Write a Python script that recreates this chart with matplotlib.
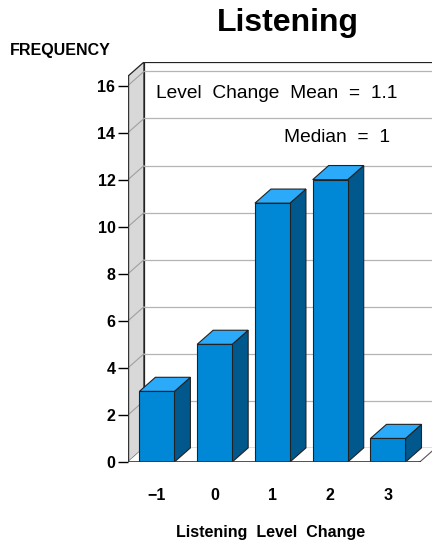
import matplotlib.pyplot as plt
from matplotlib.patches import Polygon

# data
levels = [-1, 0, 1, 2, 3]
tick_labels = ['\u22121', '0', '1', '2', '3']
counts = [3, 5, 11, 12, 1]
yticks = [0, 2, 4, 6, 8, 10, 12, 14, 16]

plt.rcParams['font.family'] = ['Liberation Sans', 'DejaVu Sans']

W, H = 432, 543
fig = plt.figure(figsize=(W / 100, H / 100), dpi=100)

# axes placed in pixels: left 128, right 432, bottom 462, top 62
ax = fig.add_axes([128 / W, (H - 462) / H, (432 - 128) / W, (462 - 62) / H])
x0, x1 = -1.5, 3.5
top = 16.4
dx, dy = 0.277, 0.6
hw = 0.303
ax.set_xlim(x0, 3.762)
ax.set_ylim(0, 17.0)
for s in ax.spines.values():
    s.set_visible(False)

front_c = '#0088d6'
top_c = '#2aaaf8'
side_c = '#00588c'
edge = '#222222'

# left wall
ax.add_patch(Polygon([(x0, 0), (x0 + dx, dy), (x0 + dx, top + dy), (x0, top)],
                     closed=True, facecolor='#d8d8d8', edgecolor=edge, lw=0.9, zorder=1))
# back wall
ax.add_patch(Polygon([(x0 + dx, dy), (5, dy), (5, top + dy), (x0 + dx, top + dy)],
                     closed=True, facecolor='white', edgecolor=edge, lw=0.9, zorder=1))
# gridlines
for t in yticks:
    ax.plot([x0 + dx, 5], [t + dy, t + dy], color='#b4b4b4', lw=0.9, zorder=2)
    ax.plot([x0, x0 + dx], [t, t + dy], color='#a0a0a0', lw=0.8, zorder=2)
# floor
ax.add_patch(Polygon([(x0, 0), (x1 + 0.05, 0), (x1 + 0.05 + dx, dy), (x0 + dx, dy)],
                     closed=True, facecolor='white', edgecolor='none', zorder=2))
ax.plot([x1 + 0.05, x1 + 0.05 + dx], [0, dy], color='#555555', lw=0.8, zorder=2)

# 3d bars
for c, v in zip(levels, counts):
    ax.add_patch(Polygon([(c + hw, 0), (c + hw + dx, dy), (c + hw + dx, v + dy), (c + hw, v)],
                         closed=True, facecolor=side_c, edgecolor=edge, lw=0.8, zorder=3))
    ax.add_patch(Polygon([(c - hw, v), (c + hw, v), (c + hw + dx, v + dy), (c - hw + dx, v + dy)],
                         closed=True, facecolor=top_c, edgecolor=edge, lw=0.8, zorder=3))
    ax.add_patch(Polygon([(c - hw, 0), (c + hw, 0), (c + hw, v), (c - hw, v)],
                         closed=True, facecolor=front_c, edgecolor=edge, lw=0.8, zorder=4))

# front axis lines
ax.plot([x0, x1 + 0.05], [0, 0], color='#333333', lw=1.2, zorder=5)
ax.plot([x0, x0], [0, top], color='#333333', lw=1.0, zorder=5)

ax.set_yticks(yticks)
ax.set_xticks(levels)
ax.set_xticklabels(tick_labels)
ax.tick_params(axis='y', length=7, width=1, pad=2, labelsize=11.5)
ax.tick_params(axis='x', length=0, pad=19, labelsize=11.5)
for lab in ax.get_xticklabels() + ax.get_yticklabels():
    lab.set_fontweight('bold')

ax.text(0.092, 0.922, 'Level  Change  Mean  =  1.1', transform=ax.transAxes,
        fontsize=13.8, ha='left', va='center')
ax.text(0.862, 0.812, 'Median  =  1', transform=ax.transAxes,
        fontsize=13.8, ha='right', va='center')

fig.text(288 / W, 1 - 23 / H, 'Listening', fontsize=23, fontweight='bold',
         ha='center', va='center')
fig.text(10 / W, 1 - 50 / H, 'FREQUENCY', fontsize=11.5, fontweight='bold',
         ha='left', va='center')
fig.text(271 / W, 1 - 533 / H, 'Listening  Level  Change', fontsize=11.5,
         fontweight='bold', ha='center', va='center')

fig.savefig('out.png', dpi=100)
